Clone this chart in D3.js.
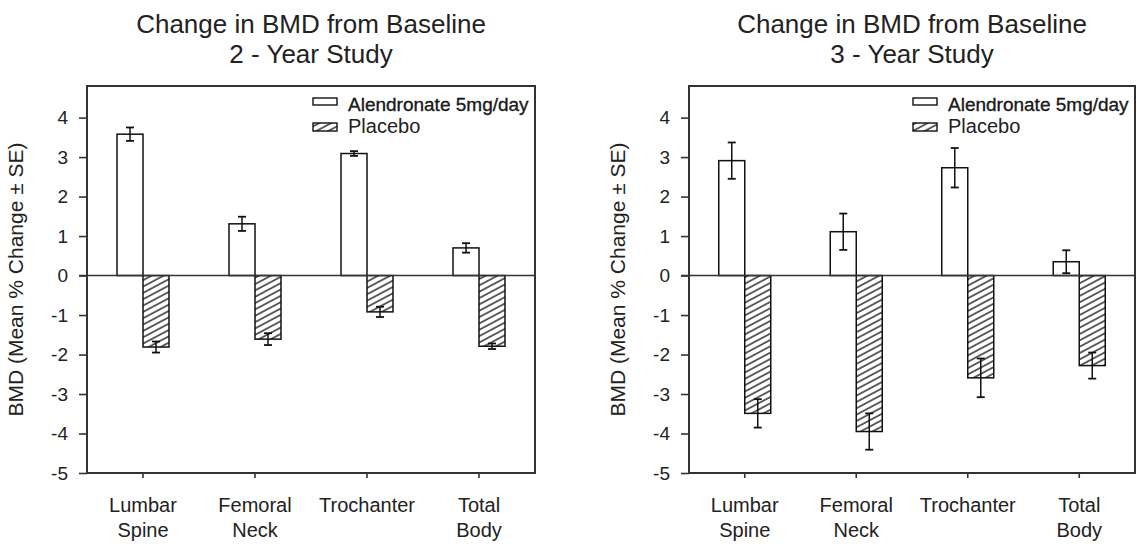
<!DOCTYPE html>
<html>
<head>
<meta charset="utf-8">
<script src="https://cdn.jsdelivr.net/npm/d3@7/dist/d3.min.js"></script>
<style>
  html, body { margin: 0; padding: 0; background: #fff; }
  svg { display: block; }
  text { font-family: "Liberation Sans", Arial, Helvetica, sans-serif; fill: #222; }
</style>
</head>
<body>
<svg id="chart" width="1137" height="544"></svg>
<script>
// ---- data ----
const categories = ["Lumbar Spine", "Femoral Neck", "Trochanter", "Total Body"];
const categoryLines = [["Lumbar", "Spine"], ["Femoral", "Neck"], ["Trochanter"], ["Total", "Body"]];
const seriesNames = ["Alendronate 5mg/day", "Placebo"];
const yTicks = [4, 3, 2, 1, 0, -1, -2, -3, -4, -5];
const yTickLabels = ["4", "3", "2", "1", "0", "-1", "-2", "-3", "-4", "-5"];

const titles2 = ["Change in BMD from Baseline", "2 - Year Study"];
const alen2 = [3.58, 1.31, 3.09, 0.70];
const alen2Err = [0.17, 0.18, 0.06, 0.12];
const plac2 = [-1.81, -1.61, -0.92, -1.79];
const plac2Err = [0.14, 0.15, 0.13, 0.07];

const titles3 = ["Change in BMD from Baseline", "3 - Year Study"];
const alen3 = [2.91, 1.11, 2.73, 0.35];
const alen3Err = [0.46, 0.46, 0.50, 0.29];
const plac3 = [-3.49, -3.95, -2.59, -2.28];
const plac3Err = [0.36, 0.46, 0.49, 0.33];

const yLabel = "BMD (Mean % Change \u00B1 SE)";

// ---- drawing ----
const svg = d3.select("#chart");
const defs = svg.append("defs");
const pat = defs.append("pattern")
  .attr("id", "hatch")
  .attr("patternUnits", "userSpaceOnUse")
  .attr("width", 10).attr("height", 5.6)
  .attr("patternTransform", "rotate(-28)");
pat.append("rect").attr("width", 10).attr("height", 5.6).attr("fill", "#fff");
pat.append("line").attr("x1", 0).attr("x2", 10).attr("y1", 1).attr("y2", 1)
  .attr("stroke", "#222").attr("stroke-width", 1.4);

const yTop = 86, yBottom = 473;

function panel(x0, x1, titleLines, alen, alenErr, plac, placErr) {
  const g = svg.append("g");
  const x = d3.scaleBand().domain(categories).range([x0, x1]);
  const y = d3.scaleLinear().domain([-5, 4.8]).range([yBottom, yTop]);
  const bw = 26;
  const cx = c => x(c) + x.bandwidth() / 2;

  // titles
  g.selectAll("text.title").data(titleLines).enter().append("text")
    .attr("class", "title")
    .attr("x", (x0 + x1) / 2)
    .attr("y", (d, i) => 33 + i * 30)
    .attr("text-anchor", "middle")
    .attr("font-size", 26)
    .text(d => d);

  // y axis
  const ya = g.append("g").attr("transform", `translate(${x0},0)`)
    .call(d3.axisLeft(y).tickValues(yTicks).tickSize(8).tickPadding(11)
      .tickFormat(d => yTickLabels[yTicks.indexOf(d)]));
  ya.select(".domain").remove();
  ya.selectAll(".tick line").attr("stroke", "#333").attr("stroke-width", 1.6);
  ya.selectAll(".tick text").attr("font-size", 19).attr("fill", "#222")
    .attr("font-family", '"Liberation Sans", Arial, sans-serif');

  // x axis ticks
  const xa = g.append("g").attr("transform", `translate(0,${yBottom})`)
    .call(d3.axisBottom(x).tickSize(5).tickFormat(""));
  xa.select(".domain").remove();
  xa.selectAll(".tick line").attr("stroke", "#333").attr("stroke-width", 1.6);

  // x category labels
  categories.forEach((c, i) => {
    const t = g.append("text")
      .attr("x", cx(c)).attr("y", 512)
      .attr("text-anchor", "middle")
      .attr("font-size", 20);
    categoryLines[i].forEach((ln, j) => {
      t.append("tspan").attr("x", cx(c)).attr("dy", j === 0 ? 0 : 25).text(ln);
    });
  });

  // y label
  g.append("text")
    .attr("transform", `translate(${x0 - 64},${(yTop + yBottom) / 2}) rotate(-90)`)
    .attr("text-anchor", "middle")
    .attr("font-size", 21)
    .text(yLabel);

  // bars
  g.selectAll("rect.alen").data(alen).enter().append("rect")
    .attr("x", (d, i) => cx(categories[i]) - bw)
    .attr("y", d => Math.min(y(d), y(0)))
    .attr("width", bw)
    .attr("height", d => Math.abs(y(d) - y(0)))
    .attr("fill", "#fff").attr("stroke", "#111").attr("stroke-width", 1.5);
  g.selectAll("rect.plac").data(plac).enter().append("rect")
    .attr("x", (d, i) => cx(categories[i]))
    .attr("y", d => Math.min(y(d), y(0)))
    .attr("width", bw)
    .attr("height", d => Math.abs(y(d) - y(0)))
    .attr("fill", "url(#hatch)").attr("stroke", "#111").attr("stroke-width", 1.5);

  // error bars
  function errBars(vals, errs, offset) {
    vals.forEach((v, i) => {
      const xc = cx(categories[i]) + offset;
      const e = errs[i];
      g.append("line").attr("x1", xc).attr("x2", xc)
        .attr("y1", y(v + e)).attr("y2", y(v - e))
        .attr("stroke", "#111").attr("stroke-width", 1.5);
      [v + e, v - e].forEach(w => {
        g.append("line").attr("x1", xc - 4).attr("x2", xc + 4)
          .attr("y1", y(w)).attr("y2", y(w))
          .attr("stroke", "#111").attr("stroke-width", 1.8);
      });
    });
  }
  errBars(alen, alenErr, -bw / 2);
  errBars(plac, placErr, bw / 2);

  // zero line
  g.append("line").attr("x1", x0 - 8).attr("x2", x1)
    .attr("y1", y(0)).attr("y2", y(0))
    .attr("stroke", "#333").attr("stroke-width", 1.6);

  // frame
  g.append("rect").attr("x", x0).attr("y", yTop)
    .attr("width", x1 - x0).attr("height", yBottom - yTop)
    .attr("fill", "none").attr("stroke", "#333").attr("stroke-width", 2);

  // legend
  const lx = x1 - 222;
  g.append("rect").attr("x", lx).attr("y", 98).attr("width", 24).attr("height", 7)
    .attr("fill", "#fff").attr("stroke", "#111").attr("stroke-width", 1.4);
  g.append("text").attr("x", lx + 35).attr("y", 111).attr("font-size", 19)
    .attr("fill", "#000").attr("stroke", "#000").attr("stroke-width", 0.3)
    .text(seriesNames[0]);
  g.append("rect").attr("x", lx).attr("y", 123).attr("width", 24).attr("height", 8)
    .attr("fill", "url(#hatch)").attr("stroke", "#111").attr("stroke-width", 1.4);
  g.append("text").attr("x", lx + 35).attr("y", 133).attr("font-size", 20)
    .attr("fill", "#333").text(seriesNames[1]);
}

panel(87, 535, titles2, alen2, alen2Err, plac2, plac2Err);
panel(689, 1135, titles3, alen3, alen3Err, plac3, plac3Err);
</script>
</body>
</html>
